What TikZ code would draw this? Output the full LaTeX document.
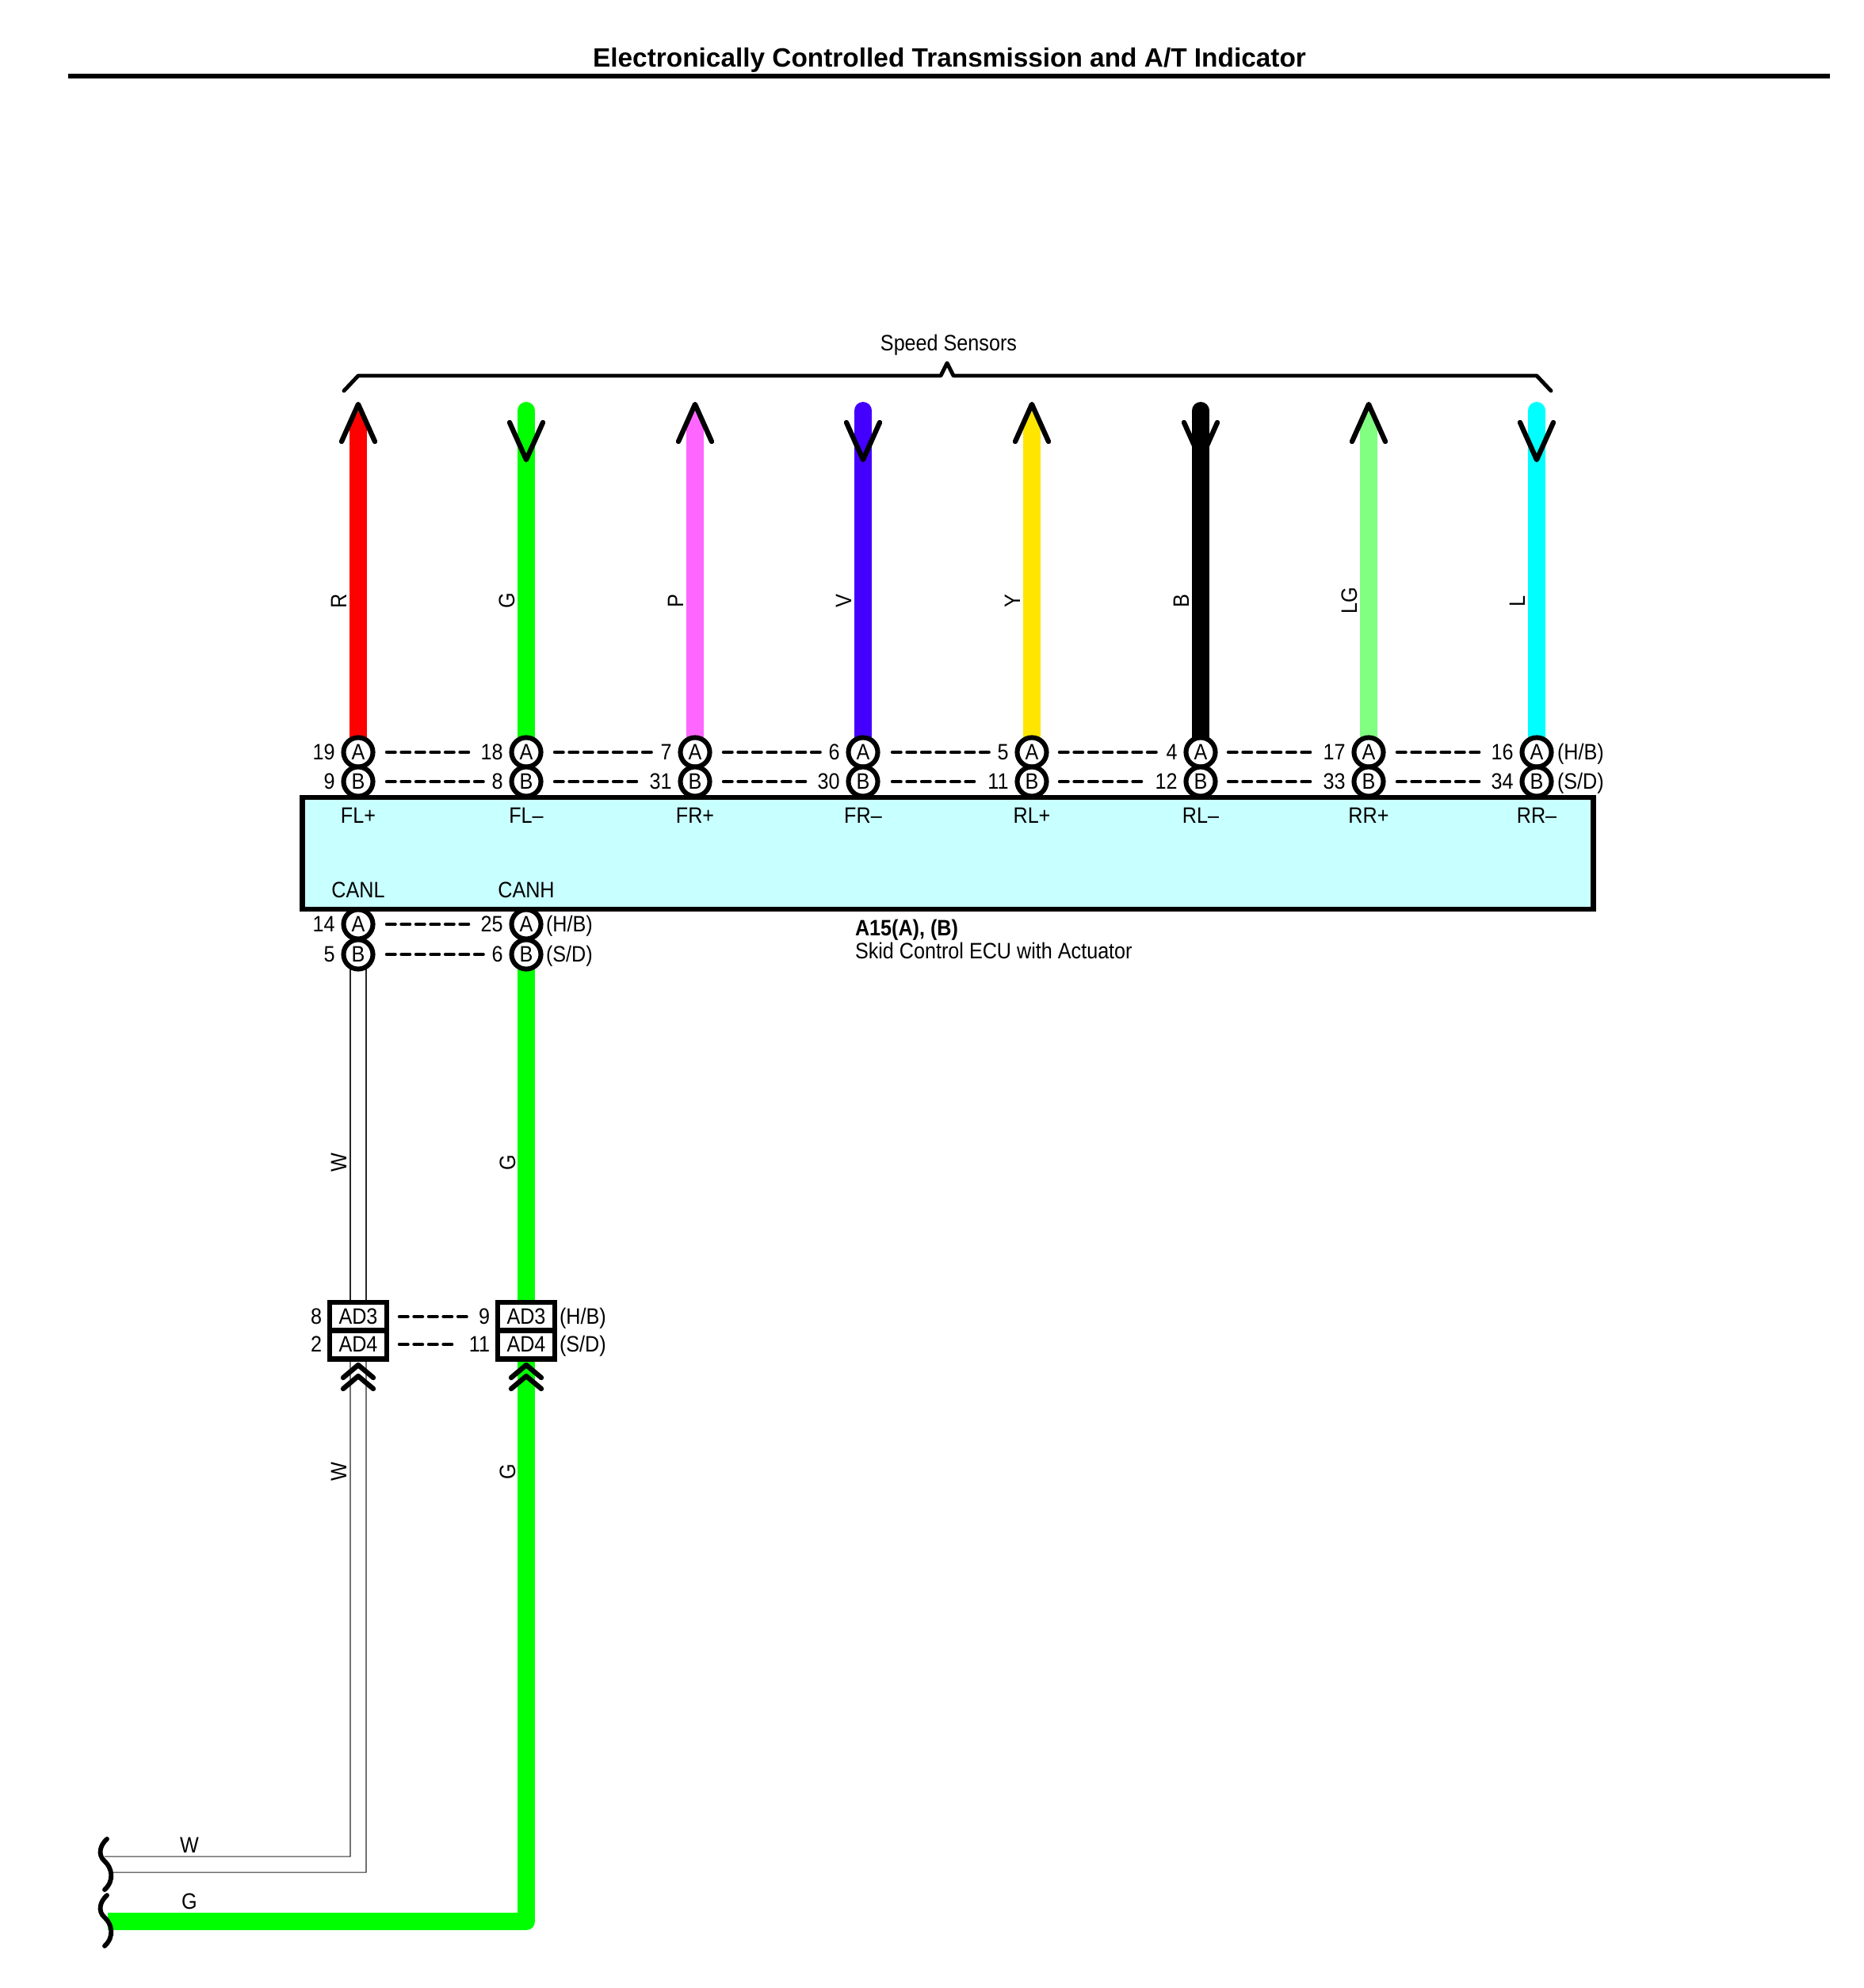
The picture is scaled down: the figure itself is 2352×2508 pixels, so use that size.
\documentclass[tikz,border=0pt]{standalone}
\usepackage{fontspec}
\usetikzlibrary{backgrounds}
\setmainfont[FakeStretch=0.895]{Liberation Sans}
\newfontfamily\titlefont{Liberation Sans}
\definecolor{ecufill}{HTML}{C8FFFF}
\definecolor{wR}{HTML}{FF0000}
\definecolor{wG}{HTML}{00FF00}
\definecolor{wP}{HTML}{FF66FF}
\definecolor{wV}{HTML}{4400FF}
\definecolor{wY}{HTML}{FFE600}
\definecolor{wB}{HTML}{000000}
\definecolor{wLG}{HTML}{80FF80}
\definecolor{wL}{HTML}{00FFFF}
\tikzset{
  lab/.style={inner sep=0pt,outer sep=0pt,anchor=base,font=\fontsize{24}{24}\selectfont},
  labr/.style={lab,anchor=base east},
  labl/.style={lab,anchor=base west},
  vlab/.style={lab,rotate=90},
  pinc/.style={circle,draw=black,line width=5.2pt,fill=white,minimum size=31.6pt,inner sep=0pt,outer sep=0pt},
  wire/.style={line width=19pt,line cap=butt,line join=round},
  whitewire/.style={line width=0.9pt,black!85},
  dashln/.style={line width=3.8pt,line cap=round,dash pattern=on 9pt off 6.8pt},
  chev/.style={line width=5.4pt,line cap=round,line join=round},
  conn/.style={rectangle,draw=black,line width=5.5pt,fill=white,minimum width=61pt,minimum height=30.3pt,inner sep=0pt,outer sep=0pt},
  squig/.style={line width=5pt,line cap=round},
}
\begin{document}
\begin{tikzpicture}[x=0.03cm,y=-0.03cm]
\useasboundingbox (0,0) rectangle (2352,2508);
% title
\node[inner sep=0pt,anchor=base,font=\titlefont\bfseries\fontsize{28.5}{28.5}\selectfont] (title) at (1198,84) {Electronically Controlled Transmission and A/T Indicator};
\coordinate (ruleL) at (86,96);
\coordinate (ruleR) at (2309,96);
\draw[line width=5.5pt] (ruleL) -- (ruleR);
% speed sensors bracket
\node[lab] (speed) at (1197,442) {Speed Sensors};
\coordinate (brL) at (434,493);
\coordinate (brR) at (1957,493);
\draw[line width=4.2pt,line cap=round,line join=round] (brL) -- (452,474) -- (1187,474) -- (1195,458) -- (1203,474) -- (1939,474) -- (brR);
% top row of pins with numbers and labels
\foreach \i/\x/\n/\lA/\lB/\f in {
 1/452/R/19/9/FL+,
 2/664/G/18/8/FL–,
 3/877/P/7/31/FR+,
 4/1089/V/6/30/FR–,
 5/1302/Y/5/11/RL+,
 6/1515/B/4/12/RL–,
 7/1727/LG/17/33/RR+,
 8/1939/L/16/34/RR–}{
  \node[pinc] (pa\i) at (\x,949) {};
  \node[pinc] (pb\i) at (\x,986) {};
  \node[lab] (pat\i) at (\x,958) {A};
  \node[lab] (pbt\i) at (\x,995) {B};
  \node[labr] (na\i) at (\x-29.5,958) {\lA};
  \node[labr] (nb\i) at (\x-29.5,995) {\lB};
  \node[vlab] (wl\i) at (\x-15,758) {\n};
}
% wires with up arrows
\foreach \i/\x/\c in {1/452/wR,3/877/wP,5/1302/wY,7/1727/wLG}{
  \coordinate (mid\i) at (\x,540);
  \begin{scope}[on background layer]
    \draw[wire,\c] (mid\i) -- (pa\i);
    \fill[\c] (\x,518) -- (\x+11,540) -- (\x-11,540) -- cycle;
  \end{scope}
  \draw[chev] (\x-21,557) -- (\x,510) -- (\x+21,557);
}
% wires with down arrows
\foreach \i/\x/\c in {2/664/wG,4/1089/wV,6/1515/wB,8/1939/wL}{
  \coordinate (top\i) at (\x,518);
  \begin{scope}[on background layer]
    \draw[wire,\c] (top\i) -- (pa\i);
    \fill[\c] (\x,518) circle (11);
  \end{scope}
  \draw[chev] (\x-21,533) -- (\x,580) -- (\x+21,533);
}
\node[labl] (hb1) at (1965,958) {(H/B)};
\node[labl] (sd1) at (1965,995) {(S/D)};
% dashed connectors
\foreach \a/\b/\y in {488/596/949,700/828/949,913/1036/949,1126/1251/949,1337/1465/949,1550/1659/949,1763/1871/949,
                      488/614/986,700/811/986,913/1021/986,1126/1234/986,1337/1447/986,1550/1659/986,1763/1871/986,
                      488/596/1166,488/614/1204,504/594/1661,504/575/1696}{
  \coordinate (ds) at (\a,\y); \coordinate (de) at (\b,\y);
  \draw[dashln] (ds) -- (de);
}
% lower pins
\foreach \i/\x/\lA/\lB in {1/452/14/5,2/664/25/6}{
  \node[pinc] (qa\i) at (\x,1166) {};
  \node[pinc] (qb\i) at (\x,1204) {};
  \node[lab] (qat\i) at (\x,1175) {A};
  \node[lab] (qbt\i) at (\x,1213) {B};
  \node[labr] (qna\i) at (\x-29.5,1175) {\lA};
  \node[labr] (qnb\i) at (\x-29.5,1213) {\lB};
}
\node[labl] (hb2) at (689,1175) {(H/B)};
\node[labl] (sd2) at (689,1213) {(S/D)};
% ECU box
\node[rectangle,draw=black,line width=5.5pt,fill=ecufill,minimum width=1390.6pt,minimum height=120.4pt,inner sep=0pt,outer sep=0pt] (ecu) at (1196,1076.5) {};
\foreach \i/\x/\f in {1/452/FL+,2/664/FL–,3/877/FR+,4/1089/FR–,5/1302/RL+,6/1515/RL–,7/1727/RR+,8/1939/RR–}{
  \node[lab] (fn\i) at (\x,1038) {\f};
}
\node[lab] (canl) at (452,1132) {CANL};
\node[lab] (canh) at (664,1132) {CANH};
\node[labl] (ecun) at (1079,1180) {\bfseries A15(A), (B)};
\node[labl] (ecud) at (1079,1209) {Skid Control ECU with Actuator};
% junction connectors
\foreach \i/\x in {1/452,2/664}{
  \node[conn] (c\i a) at (\x,1660.75) {};
  \node[conn] (c\i b) at (\x,1696.75) {};
  \node[lab] (ct\i a) at (\x,1670) {AD3};
  \node[lab] (ct\i b) at (\x,1705) {AD4};
  \draw[chev] (\x-19,1738) -- (\x,1722) -- (\x+19,1738);
  \draw[chev] (\x-19,1752) -- (\x,1736) -- (\x+19,1752);
}
\node[labr] (cn1a) at (406,1670) {8};
\node[labr] (cn1b) at (406,1705) {2};
\node[labr] (cn2a) at (618,1670) {9};
\node[labr] (cn2b) at (618,1705) {11};
\node[labl] (hb3) at (706,1670) {(H/B)};
\node[labl] (sd3) at (706,1705) {(S/D)};
% lower wires
\coordinate (w2c) at (132,2342);
\coordinate (w2d) at (141,2362);
\coordinate (ge2) at (136,2424);
\begin{scope}[on background layer]
  \draw[whitewire] ([xshift=-8.54pt]qb1.center) -- ([xshift=-8.54pt]c1a.center);
  \draw[whitewire] ([xshift=8.54pt]qb1.center) -- ([xshift=8.54pt]c1a.center);
  \draw[whitewire] ([xshift=-8.54pt]c1b.center) -- (442,2342) -- (w2c);
  \draw[whitewire] ([xshift=8.54pt]c1b.center) -- (462,2362) -- (w2d);
  \draw[wire,wG] (qb2) -- (c2a);
  \draw[wire,wG] (c2b) -- (664,2424) -- (ge2);
\end{scope}
% wire labels
\node[vlab] (lw1) at (437,1467) {W};
\node[vlab] (lg1) at (650,1467) {G};
\node[vlab] (lw2) at (437,1857) {W};
\node[vlab] (lg2) at (650,1857) {G};
\node[lab] (lw3) at (239,2337) {W};
\node[lab] (lg3) at (239,2408) {G};
% squiggles
\foreach \o in {0,71}{
  \draw[squig] (135,2320+\o) .. controls (126,2328+\o) and (123,2340+\o) .. (132,2348+\o)
     .. controls (141,2356+\o) and (145,2372+\o) .. (132,2384+\o);
}
\end{tikzpicture}
\end{document}
